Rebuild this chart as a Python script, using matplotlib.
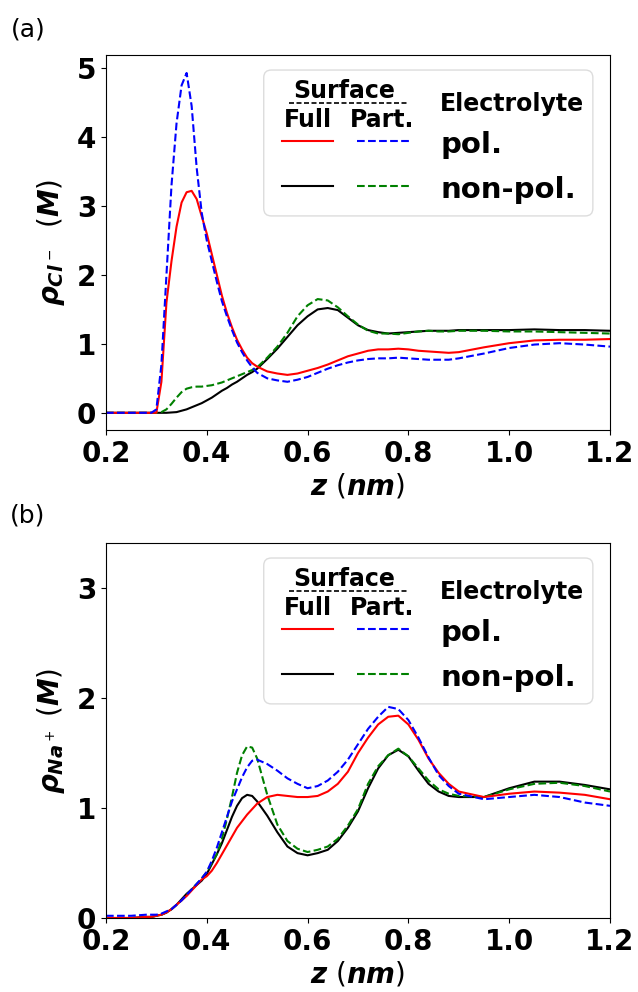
import matplotlib
matplotlib.use("Agg")
import matplotlib.pyplot as plt
from matplotlib.patches import FancyBboxPatch

plt.rcParams['font.family'] = ['DejaVu Sans']
plt.rcParams['mathtext.fontset'] = 'custom'
plt.rcParams['mathtext.it'] = 'DejaVu Sans:italic:bold'
plt.rcParams['mathtext.rm'] = 'DejaVu Sans'
plt.rcParams['mathtext.bf'] = 'DejaVu Sans:bold'

# z grid (nm)
z = [0.20, 0.25, 0.28, 0.29,
     0.30, 0.31, 0.32, 0.33, 0.34, 0.35, 0.36, 0.37, 0.38, 0.39, 0.40,
     0.41, 0.42, 0.43, 0.44, 0.45, 0.46, 0.47, 0.48, 0.49, 0.50,
     0.52, 0.54, 0.56, 0.58, 0.60, 0.62, 0.64, 0.66, 0.68, 0.70,
     0.72, 0.74, 0.76, 0.78, 0.80, 0.82, 0.84, 0.86, 0.88, 0.90,
     0.95, 1.00, 1.05, 1.10, 1.15, 1.20]

# (a) Cl- density
cl_full_pol = [0, 0, 0, 0,
               0.0, 0.45, 1.6, 2.2, 2.7, 3.05, 3.2, 3.22, 3.1, 2.85, 2.6,
               2.3, 2.0, 1.7, 1.45, 1.24, 1.06, 0.92, 0.8, 0.72, 0.67,
               0.60, 0.57, 0.55, 0.57, 0.61, 0.65, 0.70, 0.76, 0.82, 0.86,
               0.90, 0.92, 0.92, 0.93, 0.92, 0.90, 0.89, 0.88, 0.87, 0.88,
               0.95, 1.01, 1.05, 1.06, 1.06, 1.07]
cl_part_pol = [0, 0, 0, 0,
               0.05, 0.7, 2.0, 3.3, 4.2, 4.75, 4.93, 4.45, 3.55, 2.9, 2.5,
               2.2, 1.9, 1.62, 1.4, 1.2, 1.02, 0.88, 0.76, 0.66, 0.58,
               0.50, 0.47, 0.45, 0.48, 0.52, 0.58, 0.64, 0.69, 0.73, 0.76,
               0.78, 0.79, 0.79, 0.80, 0.79, 0.78, 0.77, 0.77, 0.77, 0.79,
               0.86, 0.94, 0.99, 1.01, 0.99, 0.96]
cl_full_nonpol = [0, 0, 0, 0,
                  0, 0, 0, 0.005, 0.01, 0.03, 0.05, 0.08, 0.11, 0.14, 0.18,
                  0.22, 0.27, 0.32, 0.36, 0.41, 0.45, 0.50, 0.55, 0.59, 0.64,
                  0.78, 0.93, 1.10, 1.27, 1.40, 1.50, 1.52, 1.49, 1.38, 1.27,
                  1.20, 1.17, 1.15, 1.16, 1.17, 1.18, 1.19, 1.19, 1.19, 1.20,
                  1.20, 1.20, 1.21, 1.20, 1.20, 1.19]
cl_part_nonpol = [0, 0, 0, 0,
                  0, 0.01, 0.05, 0.13, 0.22, 0.30, 0.35, 0.37, 0.38, 0.38, 0.39,
                  0.40, 0.42, 0.44, 0.47, 0.50, 0.53, 0.56, 0.59, 0.62, 0.66,
                  0.80, 0.96, 1.16, 1.40, 1.56, 1.65, 1.63, 1.53, 1.40, 1.28,
                  1.19, 1.15, 1.15, 1.14, 1.16, 1.18, 1.19, 1.18, 1.18, 1.19,
                  1.19, 1.18, 1.18, 1.17, 1.16, 1.15]

# (b) Na+ density
na_full_pol = [0.0, 0.0, 0.01, 0.01,
               0.02, 0.03, 0.05, 0.08, 0.12, 0.16, 0.20, 0.25, 0.30, 0.35, 0.38,
               0.43, 0.50, 0.58, 0.66, 0.74, 0.82, 0.88, 0.94, 0.99, 1.04,
               1.10, 1.12, 1.11, 1.10, 1.10, 1.11, 1.15, 1.22, 1.33, 1.50,
               1.64, 1.76, 1.83, 1.84, 1.76, 1.62, 1.45, 1.32, 1.22, 1.15,
               1.10, 1.13, 1.15, 1.14, 1.12, 1.08]
na_part_pol = [0.02, 0.02, 0.03, 0.03,
               0.03, 0.04, 0.06, 0.08, 0.12, 0.16, 0.21, 0.26, 0.31, 0.36, 0.42,
               0.52, 0.64, 0.78, 0.92, 1.06, 1.17, 1.28, 1.37, 1.43, 1.44,
               1.40, 1.34, 1.27, 1.22, 1.18, 1.20, 1.25, 1.33, 1.44, 1.58,
               1.72, 1.83, 1.92, 1.90, 1.80, 1.64, 1.46, 1.30, 1.20, 1.13,
               1.08, 1.10, 1.12, 1.10, 1.05, 1.02]
na_full_nonpol = [0.0, 0.0, 0.01, 0.01,
                  0.02, 0.03, 0.05, 0.08, 0.12, 0.17, 0.22, 0.26, 0.30, 0.34, 0.40,
                  0.49, 0.58, 0.68, 0.80, 0.92, 1.02, 1.09, 1.12, 1.11, 1.06,
                  0.93, 0.78, 0.65, 0.59, 0.57, 0.59, 0.62, 0.70, 0.82, 0.97,
                  1.18, 1.36, 1.48, 1.53, 1.47, 1.34, 1.22, 1.15, 1.11, 1.10,
                  1.10, 1.18, 1.24, 1.24, 1.21, 1.17]
na_part_nonpol = [0.0, 0.0, 0.01, 0.01,
                  0.02, 0.03, 0.05, 0.08, 0.12, 0.16, 0.21, 0.26, 0.31, 0.36, 0.42,
                  0.50, 0.58, 0.72, 0.90, 1.10, 1.32, 1.48, 1.56, 1.55, 1.45,
                  1.12, 0.85, 0.70, 0.63, 0.60, 0.62, 0.65, 0.72, 0.84, 0.99,
                  1.22, 1.38, 1.48, 1.54, 1.47, 1.36, 1.25, 1.17, 1.13, 1.11,
                  1.10, 1.17, 1.22, 1.23, 1.20, 1.15]

xticks = [0.2, 0.4, 0.6, 0.8, 1.0, 1.2]
lw = 1.5

fig = plt.figure(figsize=(6.38, 9.92), dpi=100)
axa = fig.add_axes([0.1661, 0.5665, 0.7900, 0.3780])
axb = fig.add_axes([0.1661, 0.0746, 0.7900, 0.3780])


def draw_legend(ax):
    aspect = ax.bbox.width / ax.bbox.height
    box = FancyBboxPatch((0.313, 0.571), 0.653, 0.389,
                         boxstyle="round,pad=0,rounding_size=0.015",
                         mutation_aspect=aspect,
                         transform=ax.transAxes, facecolor='white',
                         edgecolor='0.85', linewidth=1.0, alpha=0.9, zorder=5)
    ax.add_patch(box)
    kw = dict(transform=ax.transAxes, fontweight='bold', zorder=6)
    ax.text(0.472, 0.885, 'Surface', ha='center', va='baseline', fontsize=17, **kw)
    ax.plot([0.363, 0.597], [0.872, 0.872], color='black', lw=1.2, ls=(0, (3, 1.5)),
            transform=ax.transAxes, zorder=6)
    ax.text(0.400, 0.808, 'Full', ha='center', va='baseline', fontsize=17, **kw)
    ax.text(0.547, 0.808, 'Part.', ha='center', va='baseline', fontsize=17, **kw)
    ax.text(0.805, 0.851, 'Electrolyte', ha='center', va='baseline', fontsize=17, **kw)
    ax.text(0.663, 0.739, 'pol.', ha='left', va='baseline', fontsize=21, **kw)
    ax.text(0.663, 0.619, 'non-pol.', ha='left', va='baseline', fontsize=21, **kw)
    ax.plot([0.349, 0.450], [0.771, 0.771], color='red', lw=lw,
            transform=ax.transAxes, zorder=6)
    ax.plot([0.498, 0.603], [0.771, 0.771], color='blue', lw=lw, ls='--',
            transform=ax.transAxes, zorder=6)
    ax.plot([0.349, 0.450], [0.651, 0.651], color='black', lw=lw,
            transform=ax.transAxes, zorder=6)
    ax.plot([0.498, 0.603], [0.651, 0.651], color='green', lw=lw, ls='--',
            transform=ax.transAxes, zorder=6)


panels = [
    (axa, cl_full_pol, cl_part_pol, cl_full_nonpol, cl_part_nonpol,
     r'$\rho_{Cl^-}$  $(M)$', (-0.25, 5.19), [0, 1, 2, 3, 4, 5]),
    (axb, na_full_pol, na_part_pol, na_full_nonpol, na_part_nonpol,
     r'$\rho_{Na^+}$ $(M)$', (0, 3.41), [0, 1, 2, 3]),
]

for ax, fp, pp, fn, pn, ylab, ylim, yticks in panels:
    ax.plot(z, fn, color='black', lw=lw)
    ax.plot(z, pn, color='green', lw=lw, ls='--')
    ax.plot(z, fp, color='red', lw=lw)
    ax.plot(z, pp, color='blue', lw=lw, ls='--')
    ax.set_xlim(0.2, 1.2)
    ax.set_ylim(*ylim)
    ax.set_xticks(xticks)
    ax.set_xticklabels([f"{t:.1f}" for t in xticks])
    ax.set_yticks(yticks)
    ax.tick_params(labelsize=20)
    for lab in ax.get_xticklabels() + ax.get_yticklabels():
        lab.set_fontweight('bold')
    ax.set_xlabel(r'$z$ $(nm)$', fontsize=20, labelpad=3)
    ax.set_ylabel(ylab, fontsize=20, labelpad=7)
    draw_legend(ax)

fig.text(28 / 638, 1 - 30 / 992, '(a)', ha='center', va='center', fontsize=18)
fig.text(28 / 638, 1 - 516 / 992, '(b)', ha='center', va='center', fontsize=18)

fig.savefig('out.png', dpi=100)
